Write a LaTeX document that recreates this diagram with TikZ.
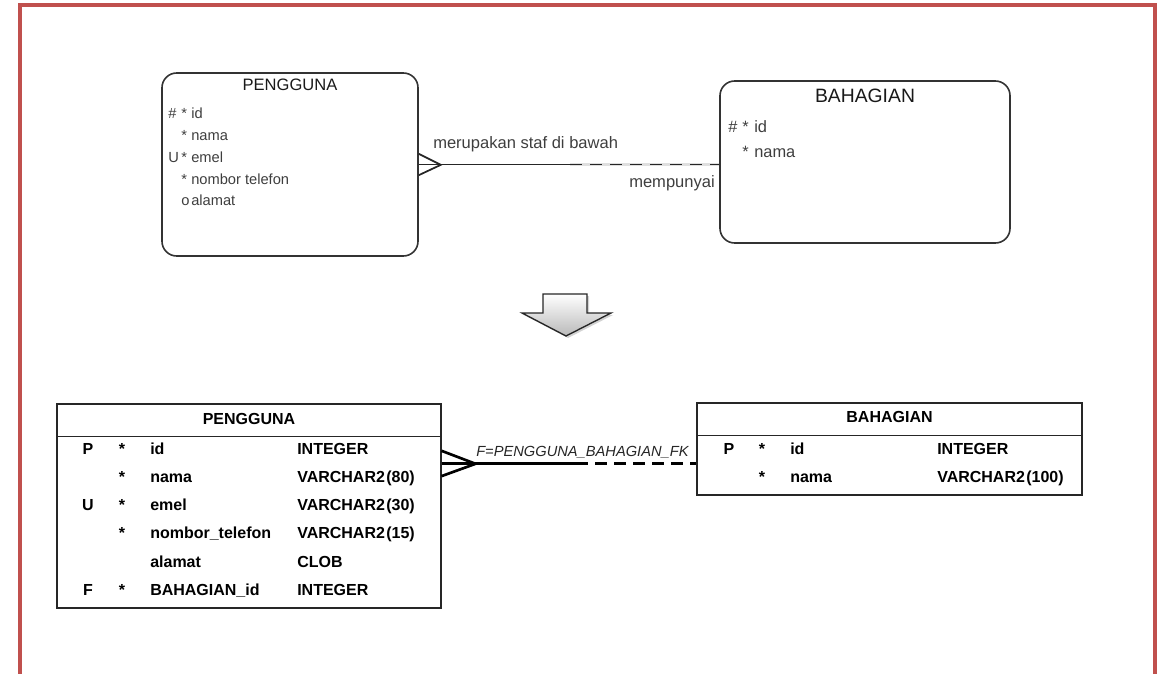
\documentclass[tikz,border=0pt]{standalone}
\usepackage{fontspec}
\setmainfont{Liberation Sans}
\usetikzlibrary{positioning,shadows}
\definecolor{framered}{RGB}{192,80,77}
\definecolor{inkgray}{RGB}{62,62,62}

\begin{document}
\begin{tikzpicture}[x=0.75pt, y=-0.75pt,
    entity/.style={draw=black!80, line width=1.2pt, rounded corners=11pt, inner sep=0pt},
    tablebox/.style={draw=black!85, line width=0.8pt, inner sep=0pt},
    attr/.style={anchor=west, inner sep=0pt, text height=8pt, text depth=2.3pt, text=inkgray, font=\fontsize{11}{13}\selectfont},
    battr/.style={anchor=west, inner sep=0pt, text height=9pt, text depth=2.6pt, text=inkgray, font=\fontsize{12.3}{14}\selectfont},
    cell/.style={inner sep=0pt, text height=8.8pt, text depth=2.5pt, font=\fontsize{12}{14}\selectfont\bfseries},
    rel/.style={draw=black!85, line width=1.3pt},
    fk/.style={draw=black, line width=2pt}]
    \useasboundingbox (0,0) rectangle (1159,674);

    % frame
    \draw[framered, line width=3pt] (20,674) -- (20,5) -- (1155,5) -- (1155,674);

    % logical model
    \node[entity, minimum width=192pt, minimum height=137.25pt] (pengguna) at (290,164.5) {};
    \node[entity, minimum width=217.5pt, minimum height=121.5pt] (bahagian) at (865,162) {};
    \node[font=\fontsize{12.4}{14}\selectfont, text=black!90, inner sep=0pt] (pengguna-title) at (290,85) {PENGGUNA};
    \node[font=\fontsize{14.5}{16}\selectfont, text=black!90, inner sep=0pt] (bahagian-title) at (865,96) {BAHAGIAN};

    \foreach \k/\s/\n [count=\i] in {\#/*/id, /*/nama, U/*/emel, /*/nombor telefon, /o/alamat} {
        \node[attr] (pk\i) at (168, 93.25+21.75*\i) {\k};
        \node[attr] (ps\i) at (181, 93.25+21.75*\i) {\s};
        \node[attr] (pn\i) at (191, 93.25+21.75*\i) {\n};
    }
    \foreach \k/\n [count=\i] in {\#/id, /nama} {
        \node[battr] (bk\i) at (728, 103+25*\i) {\k};
        \node[battr] (bs\i) at (742, 103+25*\i) {*};
        \node[battr] (bn\i) at (754, 103+25*\i) {\n};
    }

    % relationship
    \coordinate (r-mid) at (570,164.5);
    \draw[rel] ([yshift=8pt]pengguna.east) -- ++(22,11) -- ([yshift=-8pt]pengguna.east);
    \draw[rel] (pengguna.east) -- (r-mid);
    \draw[gray!25, line width=1.6pt] (r-mid) -- (pengguna.east -| bahagian.west);
    \draw[rel, dash pattern=on 9pt off 6pt] (r-mid) -- (pengguna.east -| bahagian.west);
    \node[anchor=base west, inner sep=0pt, text=inkgray, font=\fontsize{12.4}{14}\selectfont] (r-lbl1) at (433,148) {merupakan staf di bawah};
    \node[anchor=east, inner sep=0pt, text=inkgray, font=\fontsize{12.4}{14}\selectfont] (r-lbl2) at (715,183) {mempunyai};

    % transform arrow
    \draw[draw=black!85, line width=1pt, top color=white, bottom color=gray!55,
        drop shadow={opacity=0.35, shadow xshift=1.5pt, shadow yshift=-1.5pt}]
        (543,294) -- (587,294) -- (587,313) -- (611,313) -- (566,336) -- (522,313) -- (543,313) -- cycle;

    % relational model
    \node[tablebox, minimum width=288pt, minimum height=153pt] (tpengguna) at (249,506) {};
    \draw[tablebox] ([yshift=-24.75pt]tpengguna.north west) -- ([yshift=-24.75pt]tpengguna.north east);
    \node[cell] (tpengguna-title) at (249,420) {PENGGUNA};
    \foreach \k/\s/\n/\t [count=\i] in {P/*/id/INTEGER, /*/nama/VARCHAR2\kern1pt(80), U/*/emel/VARCHAR2\kern1pt(30),
        /*/nombor\_telefon/VARCHAR2\kern1pt(15), //alamat/CLOB, F/*/BAHAGIAN\_id/INTEGER} {
        \node[cell] (tpk\i) at (88, 421.8+28.2*\i) {\k};
        \node[cell] (tps\i) at (122, 421.8+28.2*\i) {\s};
        \node[cell, anchor=west] (tpn\i) at (150, 421.8+28.2*\i) {\n};
        \node[cell, anchor=west] (tpt\i) at (297, 421.8+28.2*\i) {\t};
    }

    \node[tablebox, minimum width=288.75pt, minimum height=69pt] (tbahagian) at (889.5,449) {};
    \draw[tablebox] ([yshift=-24.75pt]tbahagian.north west) -- ([yshift=-24.75pt]tbahagian.north east);
    \node[cell] (tbahagian-title) at (889.5,418) {BAHAGIAN};
    \foreach \k/\n/\t [count=\i] in {P/id/INTEGER, /nama/VARCHAR2\kern1pt(100)} {
        \node[cell] (tbk\i) at (729, 421.5+28.5*\i) {\k};
        \node[cell] (tbs\i) at (762, 421.5+28.5*\i) {*};
        \node[cell, anchor=west] (tbn\i) at (790, 421.5+28.5*\i) {\n};
        \node[cell, anchor=west] (tbt\i) at (937, 421.5+28.5*\i) {\t};
    }

    % foreign key
    \coordinate (fk-start) at ([yshift=-45pt]tpengguna.north east);
    \coordinate (fk-mid) at (fk-start -| 576,0);
    \draw[fk] ([yshift=9.5pt]fk-start) -- ++(34,13) -- ([yshift=-9.5pt]fk-start);
    \draw[fk] (fk-start) -- (fk-mid);
    \draw[fk, line width=1.6pt, dash pattern=on 9pt off 5.25pt] (fk-mid) -- (fk-start -| tbahagian.west);
    \node[anchor=west, inner sep=0pt, font=\fontsize{11}{13}\selectfont\itshape, text=black!85] (fk-lbl) at (476,452) {F=PENGGUNA\_BAHAGIAN\_FK};
\end{tikzpicture}
\end{document}
